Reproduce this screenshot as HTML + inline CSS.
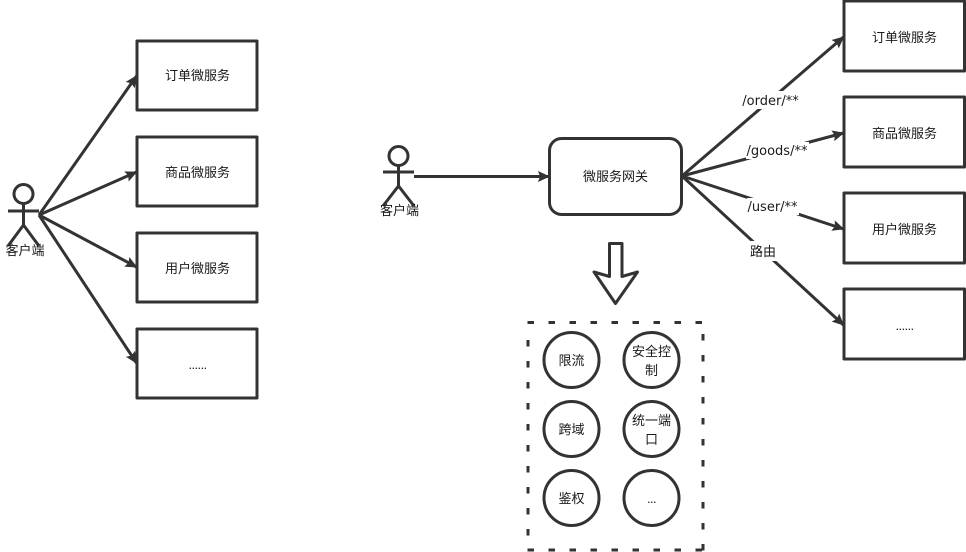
<!DOCTYPE html>
<html lang="zh">
<head>
<meta charset="utf-8">
<style>
html,body{margin:0;padding:0;background:#fff;width:966px;height:552px;overflow:hidden}
svg{display:block}
text{font-family:"Liberation Sans","Noto Sans CJK SC",sans-serif;font-size:13px;fill:#1a1a1a;text-anchor:middle}
text.e{font-family:"DejaVu Sans","Noto Sans CJK SC",sans-serif}
text.d{letter-spacing:-0.6px}
.s{fill:none;stroke:#333;stroke-width:3}
.b{fill:#fff;stroke:#333;stroke-width:3;stroke-linejoin:round}
.k{fill:none;stroke:#333;stroke-width:3;stroke-dasharray:6.5 14.5}
.l{fill:#fff;stroke:none}
</style>
</head>
<body>
<svg width="966" height="552" viewBox="0 0 966 552" xmlns="http://www.w3.org/2000/svg">
<defs>
<marker id="m" markerUnits="userSpaceOnUse" markerWidth="12" markerHeight="12" refX="11" refY="6" orient="auto" viewBox="0 0 12 12"><path d="M0 0.500L12 6L0 11.500L2 6Z" fill="#333"/></marker>
</defs>

<!-- left boxes -->
<rect class="b" x="137" y="41" width="120" height="69"/>
<rect class="b" x="137" y="137" width="120" height="69"/>
<rect class="b" x="137" y="233" width="120" height="69"/>
<rect class="b" x="137" y="329" width="120" height="69"/>
<text x="197.500" y="80">订单微服务</text>
<text x="197.500" y="177">商品微服务</text>
<text x="197.500" y="273">用户微服务</text>
<text class="d" x="197.500" y="369">......</text>

<!-- left actor -->
<circle class="s" cx="23.500" cy="194" r="9.500"/>
<path class="s" d="M8 211H39M23.500 204V225M8 246L23.500 225L39 246"/>
<text x="25" y="255">客户端</text>

<!-- left arrows -->
<path class="s" marker-end="url(#m)" d="M39 215L136.500 76"/>
<path class="s" marker-end="url(#m)" d="M39 215L136.500 172"/>
<path class="s" marker-end="url(#m)" d="M39 215L136.500 267"/>
<path class="s" marker-end="url(#m)" d="M39 215L136.500 363"/>

<!-- middle actor -->
<circle class="s" cx="398.500" cy="156" r="9.500"/>
<path class="s" d="M383 172H414M398.500 166V186M383 206L398.500 186L414 206"/>
<text x="399.500" y="215">客户端</text>
<path class="s" marker-end="url(#m)" d="M414 176.500H549"/>

<!-- gateway -->
<rect class="b" x="549.500" y="138.500" width="132" height="76" rx="12"/>
<text x="615.500" y="181">微服务网关</text>

<!-- right arrows -->
<path class="s" marker-end="url(#m)" d="M682 176L843.500 37"/>
<path class="s" marker-end="url(#m)" d="M682 176L843.500 133"/>
<path class="s" marker-end="url(#m)" d="M682 176L843.500 229"/>
<path class="s" marker-end="url(#m)" d="M682 176L843.500 325"/>
<rect class="l" x="741" y="91" width="60" height="18"/>
<rect class="l" x="746" y="142" width="63" height="17"/>
<rect class="l" x="747" y="198" width="52" height="17"/>
<rect class="l" x="749" y="241" width="28" height="20"/>
<text class="e" x="770.500" y="105">/order/**</text>
<text class="e" x="777" y="155">/goods/**</text>
<text class="e" x="772.500" y="211">/user/**</text>
<text x="763" y="256">路由</text>

<!-- right boxes -->
<rect class="b" x="844" y="1" width="120.500" height="70"/>
<rect class="b" x="844" y="97" width="120.500" height="70"/>
<rect class="b" x="844" y="193" width="120.500" height="70"/>
<rect class="b" x="844" y="289" width="120.500" height="70"/>
<text x="904.500" y="42">订单微服务</text>
<text x="904.500" y="138">商品微服务</text>
<text x="904.500" y="234">用户微服务</text>
<text class="d" x="904.500" y="330">......</text>

<!-- block arrow -->
<path class="b" d="M609.500 243.500H622V276.500L637.500 272L615.500 303.500L594 272L609.500 276.500Z"/>

<!-- dashed container -->
<path class="k" d="M527.500 322.500H703"/>
<path class="k" d="M527.500 550H703"/>
<path class="k" d="M528 340V550"/>
<path class="k" d="M703 334V551"/>

<!-- circles -->
<circle class="s" cx="571.500" cy="360" r="27.500"/>
<circle class="s" cx="651.500" cy="360" r="27.500"/>
<circle class="s" cx="571.500" cy="429" r="27.500"/>
<circle class="s" cx="651.500" cy="429" r="27.500"/>
<circle class="s" cx="571.500" cy="498" r="27.500"/>
<circle class="s" cx="651.500" cy="498" r="27.500"/>
<text x="571.500" y="365">限流</text>
<text x="651.500" y="356">安全控</text>
<text x="651.500" y="375">制</text>
<text x="571.500" y="434">跨域</text>
<text x="651.500" y="425">统一端</text>
<text x="651.500" y="444">口</text>
<text x="571.500" y="503">鉴权</text>
<text class="d" x="651.500" y="503">...</text>
</svg>
</body>
</html>
